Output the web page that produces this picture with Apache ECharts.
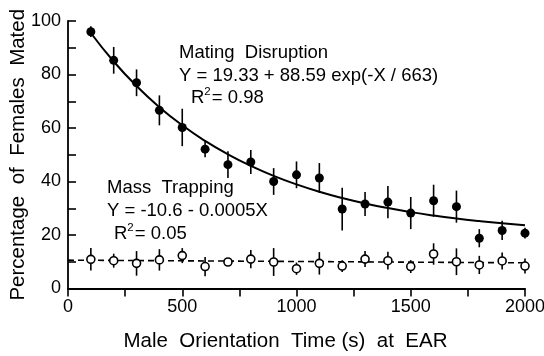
<!DOCTYPE html>
<html><head><meta charset="utf-8">
<script src="https://cdn.jsdelivr.net/npm/echarts@6/dist/echarts.min.js"></script>
<style>html,body{margin:0;padding:0;background:#fff}#c{width:544px;height:356px}</style>
</head><body><div id="c"></div>
<script>
var times = [100,200,300,400,500,600,700,800,900,1000,1100,1200,1300,1400,1500,1600,1700,1800,1900,2000];
var disruptMean = [96,85.3,76.9,66.6,60.2,52.1,46.3,47.3,40,42.5,41.3,29.7,31.6,32.3,28.2,32.8,30.6,18.8,21.7,20.7];
var disruptErr  = [2,5,5,5.6,7,3,5,4.5,5,5,5.6,8,4.5,6,6,6,6,3.4,3.6,2];
var trapMean = [10.9,10.4,9.4,10.7,12.3,8.2,9.9,11,9.9,7.4,9.4,8.4,11,10.4,8.2,12.9,10,8.8,10.3,8.4];
var trapErr  = [4.2,2.6,4.6,4,2.8,3.6,1.4,3.4,5.2,2.3,4.2,2.2,3,3.3,2.4,4,5,3.4,3.2,2.8];
var fitCurve = [95.52,84.85,75.68,67.79,61.01,55.17,50.15,45.84,42.13,38.94,36.19,33.83,31.80,30.06,28.55,27.26,26.15,25.20,24.37,23.67];
var trapFitX = [0,2000];
var trapFitY = [10.6,9.6];

function pairs(xs, ys){ return xs.map(function(x,i){return [x, ys[i]];}); }
function errData(xs, m, e){ return xs.map(function(x,i){return [x, m[i]-e[i], m[i]+e[i]];}); }

var FONT = 'Liberation Sans, Arial, Helvetica, sans-serif';
function errSeries(data){
  return {
    type:'custom', data:data, z:2,
    renderItem:function(params, api){
      var p1 = api.coord([api.value(0), api.value(1)]);
      var p2 = api.coord([api.value(0), api.value(2)]);
      return {type:'line', shape:{x1:p1[0],y1:p1[1],x2:p2[0],y2:p2[1]}, style:{stroke:'#000', lineWidth:1.6}};
    },
    encode:{x:0,y:[1,2]}
  };
}
var supRich = {a:{fontFamily:FONT, fontSize:18.5, fill:'#000', verticalAlign:'bottom'}, s:{fontFamily:FONT, fontSize:11.5, fill:'#000', verticalAlign:'top', padding:[0,1,9,0]}};
var tickStyle = {color:'#000', width:1.6};
var lineAxisStyle = {color:'#000', width:1.8};

var chart = echarts.init(document.getElementById('c'));
chart.setOption({
  animation:false,
  grid:{left:68, right:19, top:21, bottom:67.5, containLabel:false, outerBoundsMode:'none'},
  xAxis:{
    type:'value', min:0, max:2000, interval:500,
    name:'Male  Orientation  Time (s)  at  EAR', nameLocation:'middle', nameGap:42, nameMoveOverlap:false,
    nameTextStyle:{fontFamily:FONT, fontSize:20.5, color:'#000', padding:[0,22,0,0]},
    axisLine:{show:true, onZero:false, lineStyle:lineAxisStyle},
    axisTick:{show:true, length:8, lineStyle:tickStyle},
    minorTick:{show:true, splitNumber:2, length:8, lineStyle:tickStyle},
    splitLine:{show:false},
    axisLabel:{fontFamily:FONT, fontSize:18, color:'#000', margin:10, formatter:function(v){return String(v);}}
  },
  yAxis:{
    type:'value', min:0, max:100, interval:20,
    name:'Percentage  of  Females  Mated', nameLocation:'middle', nameGap:39, nameMoveOverlap:false,
    nameTextStyle:{fontFamily:FONT, fontSize:20.5, color:'#000'},
    axisLine:{show:true, onZero:false, lineStyle:lineAxisStyle},
    axisTick:{show:true, inside:true, length:8, lineStyle:tickStyle},
    minorTick:{show:true, splitNumber:2, length:8, lineStyle:tickStyle},
    splitLine:{show:false},
    axisLabel:{fontFamily:FONT, fontSize:18, color:'#000', margin:7}
  },
  series:[
    {type:'line', data:pairs(times, fitCurve), smooth:true, symbol:'none', lineStyle:{color:'#000', width:2}, z:1},
    {type:'line', data:pairs(trapFitX, trapFitY), symbol:'none', lineStyle:{color:'#000', width:1.6, type:[6,4]}, z:1},
    errSeries(errData(times, disruptMean, disruptErr)),
    errSeries(errData(times, trapMean, trapErr)),
    {type:'scatter', data:pairs(times, disruptMean), symbol:'circle', symbolSize:9, itemStyle:{color:'#000', opacity:1}, z:3},
    {type:'scatter', data:pairs(times, trapMean), symbol:'circle', symbolSize:8, itemStyle:{color:'#fff', borderColor:'#000', borderWidth:1.6, opacity:1}, z:3}
  ],
  graphic:[
    {type:'text', left:179, top:43, style:{text:'Mating  Disruption', fontFamily:FONT, fontSize:18.5, fill:'#000'}},
    {type:'text', left:179, top:66, style:{text:'Y = 19.33 + 88.59 exp(-X / 663)', fontFamily:FONT, fontSize:18.5, fill:'#000'}},
    {type:'text', left:191, top:86, style:{text:'{a|R}{s|2}{a|= 0.98}', rich:supRich}},
    {type:'text', left:107, top:178, style:{text:'Mass  Trapping', fontFamily:FONT, fontSize:18.5, fill:'#000'}},
    {type:'text', left:107, top:201, style:{text:'Y = -10.6 - 0.0005X', fontFamily:FONT, fontSize:18.5, fill:'#000'}},
    {type:'text', left:114, top:222, style:{text:'{a|R}{s|2}{a|= 0.05}', rich:supRich}}
  ]
});
</script></body></html>
